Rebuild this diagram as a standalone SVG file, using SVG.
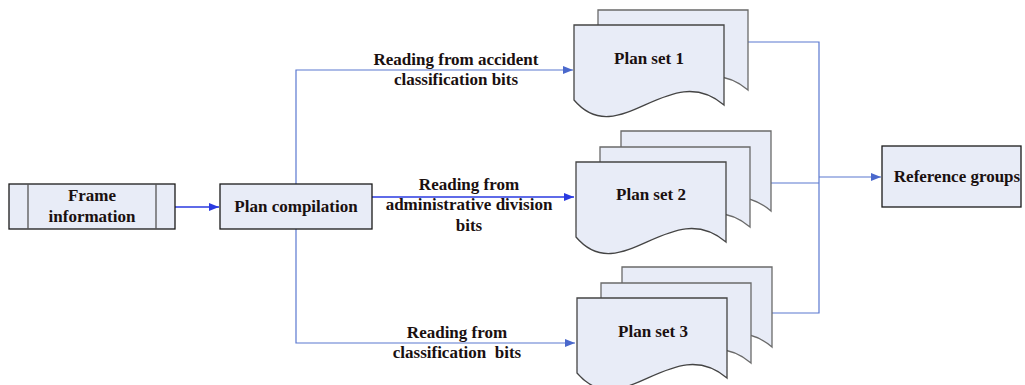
<svg xmlns="http://www.w3.org/2000/svg" xmlns:xlink="http://www.w3.org/1999/xlink" width="1025" height="385" viewBox="0 0 1025 385">
<style>
.box{fill:#e8ecf7;stroke:#1a1a1a;stroke-width:1.3}
.inner{stroke:#555;stroke-width:1.3}
.doc{fill:#e8ecf7;stroke:#6a6a6a;stroke-width:1.3}
.docf{fill:#e8ecf7;stroke:#444;stroke-width:1.3}
.lbl{font-family:"Liberation Serif","Times New Roman",serif;font-weight:bold;font-size:17px;fill:#1a1010;text-anchor:middle}
.c{fill:none;stroke:#5a78d0;stroke-width:1.2}
.cs{fill:none;stroke:#2a3ae0;stroke-width:1.3}
</style>
<defs>
<marker id="ah" viewBox="0 0 10 8" refX="10" refY="4" markerWidth="10" markerHeight="8" markerUnits="userSpaceOnUse" orient="auto">
<path d="M0,0 L10,4 L0,8 Z" fill="#4a68cc"/>
</marker>
<marker id="ahs" viewBox="0 0 10 8" refX="10" refY="4" markerWidth="10" markerHeight="8" markerUnits="userSpaceOnUse" orient="auto">
<path d="M0,0 L10,4 L0,8 Z" fill="#2a3ae0"/>
</marker>
<path id="docshape" d="M0,0 H150 V80 C95,33 45,128 0,75 Z"/>
</defs>

<g id="connectors">
<path class="cs" d="M175,207 H219" marker-end="url(#ahs)"/>
<path class="c" d="M296,184 V70 H573" marker-end="url(#ah)"/>
<path class="cs" d="M372,197 H574" marker-end="url(#ahs)"/>
<path class="c" d="M296,229 V343 H575" marker-end="url(#ah)"/>
<path class="c" d="M748,42 H819 V313 H772"/>
<path class="c" d="M771,183 H819"/>
<path class="c" d="M819,177 H881" marker-end="url(#ah)"/>
</g>

<g id="frame-information">
<rect class="box" x="9" y="184" width="166" height="45"/>
<line class="inner" x1="28" y1="184" x2="28" y2="229"/>
<line class="inner" x1="156" y1="184" x2="156" y2="229"/>
<text class="lbl" x="92" y="201">Frame</text>
<text class="lbl" x="92" y="222">information</text>
</g>

<g id="plan-compilation">
<rect class="box" x="220" y="184" width="152" height="45"/>
<text class="lbl" x="296" y="212">Plan compilation</text>
</g>

<g id="label-1">
<text class="lbl" x="456" y="65">Reading from accident</text>
<text class="lbl" x="456" y="85">classification bits</text>
</g>
<g id="label-2">
<text class="lbl" x="469" y="190">Reading from</text>
<text class="lbl" x="469" y="210">administrative division</text>
<text class="lbl" x="469" y="231">bits</text>
</g>
<g id="label-3">
<text class="lbl" x="457" y="338">Reading from</text>
<text class="lbl" x="457" y="358" xml:space="preserve">classification  bits</text>
</g>

<g id="plan-set-1">
<use href="#docshape" class="doc" x="598" y="10"/>
<use href="#docshape" class="docf" x="574" y="25"/>
<text class="lbl" x="649" y="64">Plan set 1</text>
</g>

<g id="plan-set-2">
<use href="#docshape" class="doc" x="621" y="131"/>
<use href="#docshape" class="doc" x="600" y="147"/>
<use href="#docshape" class="docf" x="576" y="162"/>
<text class="lbl" x="651" y="200">Plan set 2</text>
</g>

<g id="plan-set-3">
<use href="#docshape" class="doc" x="622" y="267"/>
<use href="#docshape" class="doc" x="601" y="283"/>
<use href="#docshape" class="docf" x="577" y="298"/>
<text class="lbl" x="653" y="337">Plan set 3</text>
</g>

<g id="reference-groups">
<rect class="box" x="882" y="146" width="139" height="61"/>
<text class="lbl" x="957" y="182">Reference groups</text>
</g>
</svg>
